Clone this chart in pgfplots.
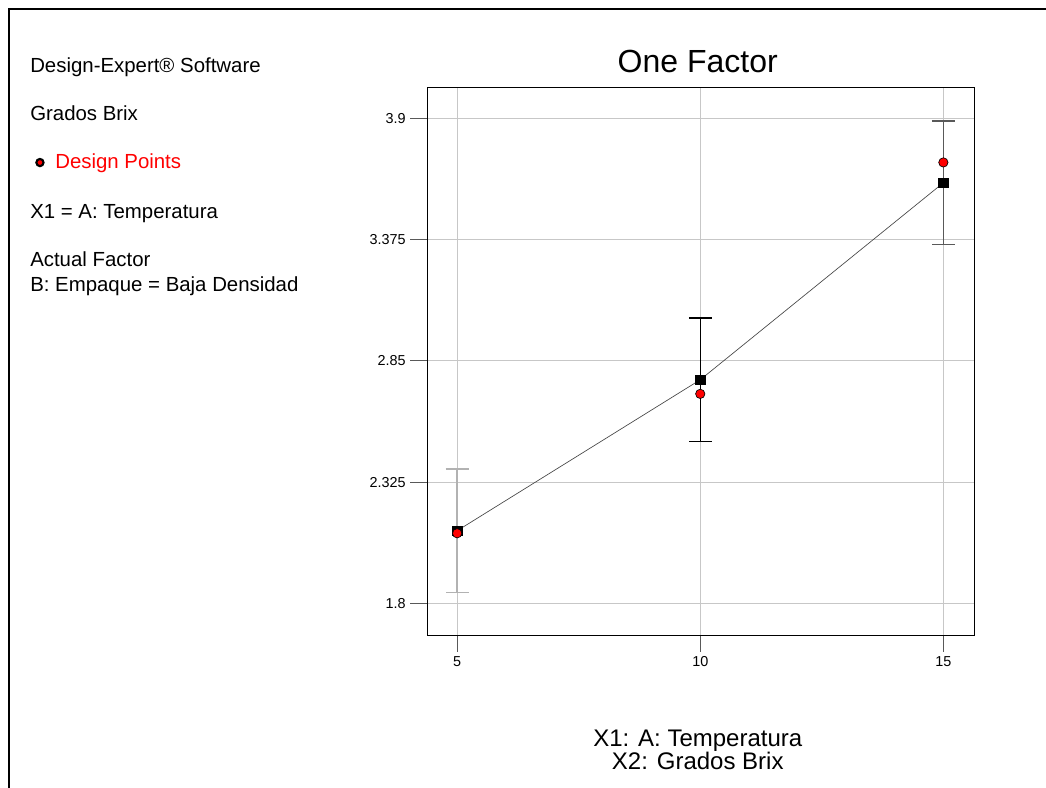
\documentclass[border=0pt]{standalone}
\usepackage{fontspec}
\setmainfont{Liberation Sans}
\usepackage{pgfplots}
\pgfplotsset{compat=1.18}
\definecolor{gridgray}{gray}{0.78}
\definecolor{tickgray}{gray}{0.35}
\begin{document}
\begin{tikzpicture}
\useasboundingbox (0,0) rectangle (784.5pt,-591pt);
\draw[line width=1.5pt] (7.1pt,-600pt) -- (7.1pt,-6.8pt) -- (800pt,-6.8pt);
\begin{scope}[every node/.style={anchor=base west, inner sep=0pt, font=\fontsize{15.3}{18}\selectfont}]
\node at (22.5pt,-54.5pt) {Design-Expert® Software};
\node at (22.5pt,-90.5pt) {Grados Brix};
\node at (22.5pt,-164.25pt) {X1 = A: Temperatura};
\node at (22.5pt,-200pt) {Actual Factor};
\node at (22.5pt,-218.8pt) {B: Empaque = Baja Densidad};
\end{scope}
\begin{axis}[
  at={(320.25pt,-476.25pt)}, anchor=south west,
  scale only axis, width=410.25pt, height=410.6pt,
  xmin=4.38, xmax=15.63, ymin=1.664, ymax=4.032,
  xtick={5,10,15}, ytick={1.8,2.325,2.85,3.375,3.9},
  xticklabels={5,10,15},
  yticklabels={1.8,2.325,2.85,3.375,3.9},
  grid=major, major grid style={gridgray, line width=0.75pt},
  tick align=outside, major tick length=12.5pt,
  tick pos=left,
  tick style={tickgray, line width=0.75pt},
  axis line style={black, line width=0.75pt},
  ticklabel style={font=\fontsize{10.8}{12}\selectfont},
  /pgf/number format/assume math mode=true,
  title={One Factor},
  title style={font=\fontsize{24}{28}\selectfont, at={(axis description cs:0.495,1.0137)}, anchor=base, inner sep=0pt},
  xlabel={X1: A: Temperatura\\X2: Grados Brix},
  xlabel style={at={(axis description cs:0.495,-0.1735)}, anchor=north, align=center, inner sep=0pt, font=\fontsize{18}{16.8}\selectfont},
  legend style={at={(axis description cs:-0.7166,0.863)}, anchor=west, draw=none, fill=none, inner sep=0pt, column sep=8pt, font=\fontsize{15.3}{18}\selectfont, nodes={inner sep=0pt, text=red}},
  legend image code/.code={\draw[fill=red,draw=black,line width=1.6pt] (0.14cm,0pt) circle (2.7pt);},
]
% connecting line of predicted means
\addplot[forget plot, color=gray!55!black, line width=0.5pt] coordinates {(5,2.115) (10,2.768) (15,3.62)};
% confidence bars
\addplot[forget plot, only marks, mark=none, error bars/.cd, y dir=both, y explicit,
  error bar style={color=gray!60, line width=1pt},
  error mark options={rotate=90, mark size=8.6pt, color=gray!60, line width=1pt}]
  coordinates {(5,2.115) +- (0,0.2675)};
\addplot[forget plot, only marks, mark=none, error bars/.cd, y dir=both, y explicit,
  error bar style={color=black, line width=1pt},
  error mark options={rotate=90, mark size=8.6pt, color=black, line width=1pt}]
  coordinates {(10,2.768) +- (0,0.2675)};
\addplot[forget plot, only marks, mark=none, error bars/.cd, y dir=both, y explicit,
  error bar style={color=gray!70!black, line width=1pt},
  error mark options={rotate=90, mark size=8.6pt, color=gray!70!black, line width=1pt}]
  coordinates {(15,3.62) +- (0,0.2675)};
% predicted means
\addplot[forget plot, only marks, mark=square*, mark size=3.5pt, mark options={fill=black, draw=black}]
  coordinates {(5,2.115) (10,2.768) (15,3.62)};
% design points
\addplot[only marks, mark=*, mark size=3.5pt, mark options={fill=red, draw=black, line width=0.5pt}]
  coordinates {(5,2.104) (10,2.707) (15,3.708)};
\addlegendentry{Design Points}
\end{axis}
\end{tikzpicture}
\end{document}
